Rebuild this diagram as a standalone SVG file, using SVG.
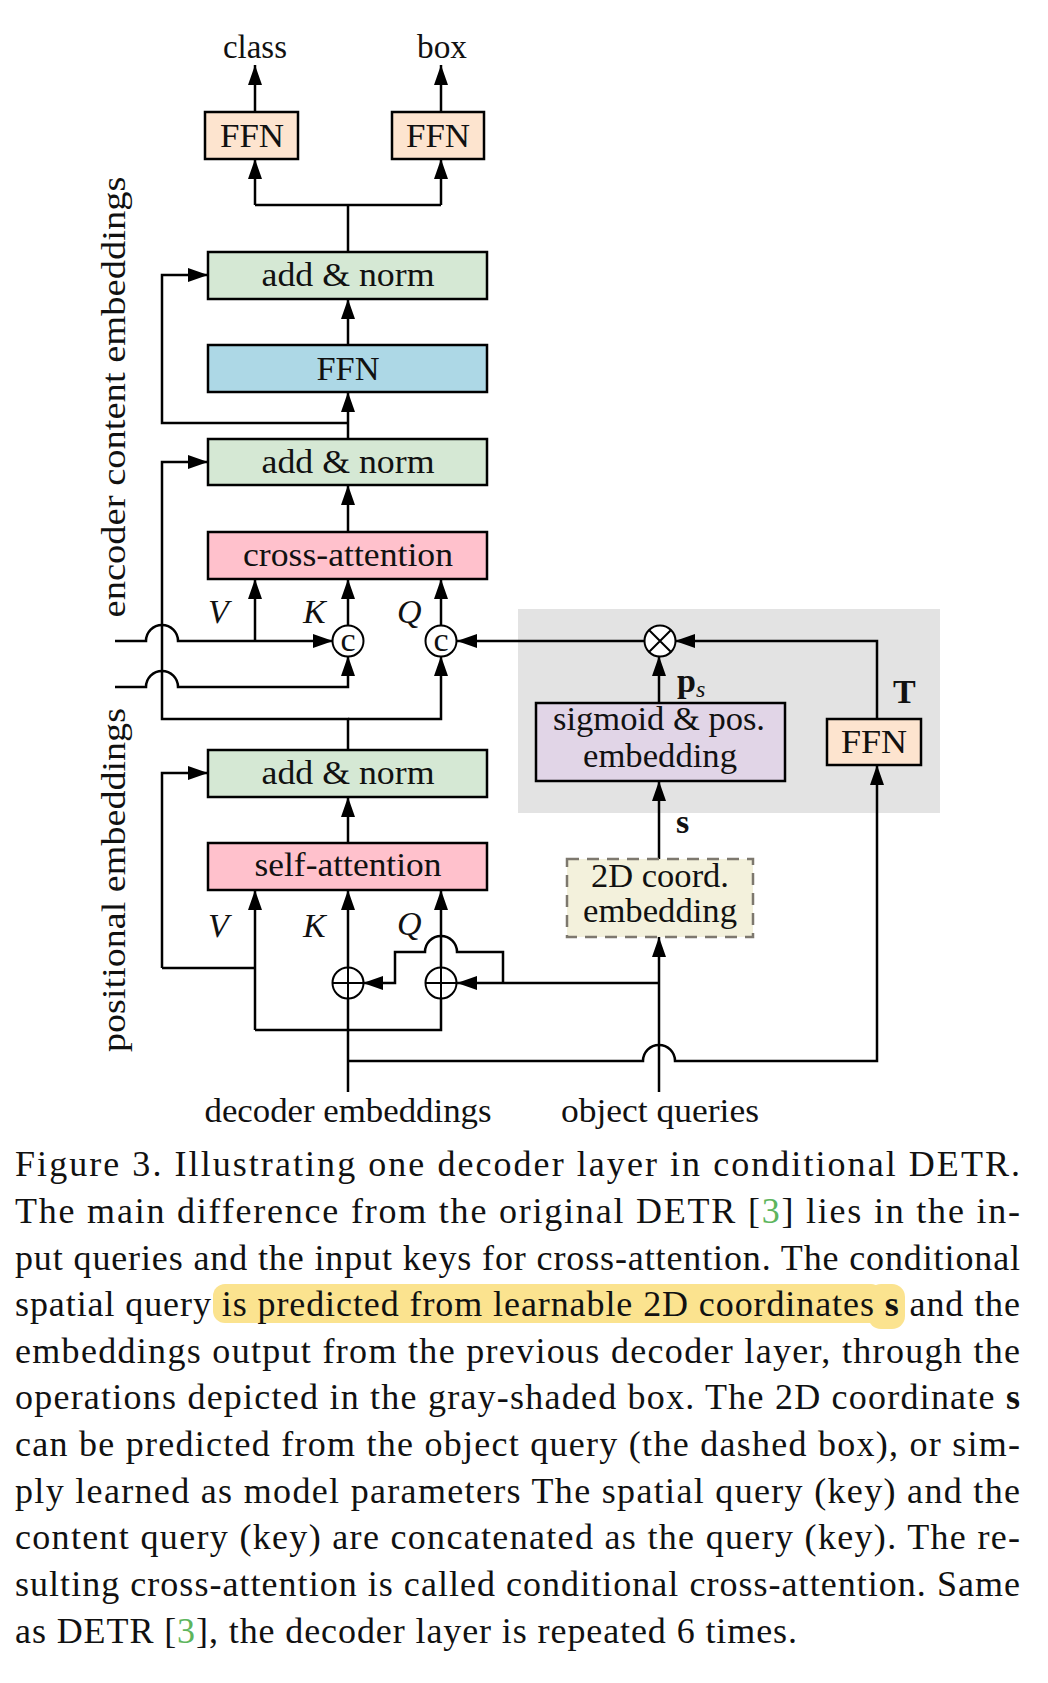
<svg xmlns="http://www.w3.org/2000/svg" width="1048" height="1683" viewBox="0 0 1048 1683">
<style>
  .t { font-family: "Liberation Serif", "Times New Roman", serif; font-size: 34px; fill: #111; }
  .it { font-family: "Liberation Serif", "Times New Roman", serif; font-size: 34px; font-style: italic; fill: #111; }
  .bd { font-family: "Liberation Serif", "Times New Roman", serif; font-size: 34px; font-weight: bold; fill: #111; }
  .cap { font-family: "Liberation Serif", "Times New Roman", serif; font-size: 36px; fill: #111; }
  .box { stroke: #000; stroke-width: 2.5; }
  .ln { fill: none; stroke: #000; stroke-width: 2.5; }
  .arr { fill: none; stroke: #000; stroke-width: 2.5; marker-end: url(#ah); }
  .peach { fill: #FDE4CF; }
  .green { fill: #D5E8D4; }
  .blue { fill: #ADD8E6; }
  .pink { fill: #FFC1CC; }
  .lav { fill: #E1D5E7; }
  .circ { fill: #fff; stroke: #000; stroke-width: 2; }
  .cite { fill: #5DB55D; }
</style>
<defs>
  <marker id="ah" markerUnits="userSpaceOnUse" markerWidth="20" markerHeight="14" refX="20" refY="7" orient="auto">
    <path d="M0,0 L20,7 L0,14 z" fill="#000"/>
  </marker>
</defs>
<rect width="1048" height="1683" fill="#fff"/>

<!-- gray shaded box -->
<rect id="grayBox" x="518" y="609" width="422" height="204" fill="#E3E3E3"/>

<!-- connectors -->
<g id="connectors">
  <line class="arr" x1="255" y1="112" x2="255" y2="65"/>
  <line class="arr" x1="441" y1="112" x2="441" y2="65"/>
  <path class="ln" d="M348,252 V205 H255 M348,205 H441"/>
  <line class="arr" x1="255" y1="205" x2="255" y2="159"/>
  <line class="arr" x1="441" y1="205" x2="441" y2="159"/>
  <line class="arr" x1="348" y1="345" x2="348" y2="299"/>
  <line class="arr" x1="348" y1="439" x2="348" y2="392"/>
  <path class="arr" d="M348,423 H162 V275 H208"/>
  <line class="arr" x1="348" y1="532" x2="348" y2="485"/>
  <path class="arr" d="M348,750 V719 H162 V462 H208"/>
  <path class="arr" d="M348,719 H441 V656"/>
  <path class="arr" d="M115,641 H146 A16,16 0 0 1 178,641 H333"/>
  <line class="arr" x1="255" y1="641" x2="255" y2="579"/>
  <path class="arr" d="M115,687 H146 A16,16 0 0 1 178,687 H348 V656"/>
  <line class="arr" x1="348" y1="626" x2="348" y2="579"/>
  <line class="arr" x1="441" y1="626" x2="441" y2="579"/>
  <line class="arr" x1="645" y1="641" x2="457" y2="641"/>
  <path class="arr" d="M877,719 V641 H675"/>
  <line class="arr" x1="659" y1="703" x2="659" y2="656"/>
  <line class="arr" x1="659" y1="859" x2="659" y2="781"/>
  <line class="arr" x1="348" y1="843" x2="348" y2="797"/>
  <path class="arr" d="M162,968 V773 H208"/>
  <path class="ln" d="M162,968 H255"/>
  <line class="arr" x1="255" y1="1030" x2="255" y2="890"/>
  <line class="arr" x1="348" y1="968" x2="348" y2="890"/>
  <line class="arr" x1="441" y1="968" x2="441" y2="890"/>
  <path class="ln" d="M348,1092 V998"/>
  <path class="ln" d="M255,1030 H441 V998"/>
  <path class="arr" d="M348,1061 H643 A16,16 0 0 1 675,1061 H877 V765"/>
  <line class="arr" x1="659" y1="1092" x2="659" y2="937"/>
  <path class="arr" d="M659,983 H457"/>
  <path class="arr" d="M503,983 V952 H457 A16,16 0 0 0 425,952 H395 V983 H363"/>
</g>

<!-- nodes -->
<g id="out-class"><text class="t" x="255" y="58" text-anchor="middle" textLength="64" lengthAdjust="spacingAndGlyphs">class</text></g>
<g id="out-box"><text class="t" x="442" y="58" text-anchor="middle" textLength="50" lengthAdjust="spacingAndGlyphs">box</text></g>

<g id="ffn-class">
  <rect class="box peach" x="205" y="112" width="93" height="47"/>
  <text class="t" x="252" y="147" text-anchor="middle" textLength="64" lengthAdjust="spacingAndGlyphs">FFN</text>
</g>
<g id="ffn-box">
  <rect class="box peach" x="392" y="112" width="92" height="47"/>
  <text class="t" x="438" y="147" text-anchor="middle" textLength="64" lengthAdjust="spacingAndGlyphs">FFN</text>
</g>
<g id="addnorm-top">
  <rect class="box green" x="208" y="252" width="279" height="47"/>
  <text class="t" x="348" y="286" text-anchor="middle" textLength="173" lengthAdjust="spacingAndGlyphs">add &amp; norm</text>
</g>
<g id="ffn-mid">
  <rect class="box blue" x="208" y="345" width="279" height="47"/>
  <text class="t" x="348" y="380" text-anchor="middle" textLength="63" lengthAdjust="spacingAndGlyphs">FFN</text>
</g>
<g id="addnorm-mid">
  <rect class="box green" x="208" y="439" width="279" height="46"/>
  <text class="t" x="348" y="473" text-anchor="middle" textLength="173" lengthAdjust="spacingAndGlyphs">add &amp; norm</text>
</g>
<g id="cross-attention">
  <rect class="box pink" x="208" y="532" width="279" height="47"/>
  <text class="t" x="348" y="566" text-anchor="middle" textLength="210" lengthAdjust="spacingAndGlyphs">cross-attention</text>
</g>
<g id="labels-cross">
  <text class="it" x="208" y="623">V</text>
  <text class="it" x="303" y="623">K</text>
  <text class="it" x="397" y="623">Q</text>
</g>
<g id="concat-k">
  <circle class="circ" cx="348" cy="641" r="15.5"/>
  <text class="t" x="348" y="651" text-anchor="middle" style="font-size:34px">c</text>
</g>
<g id="concat-q">
  <circle class="circ" cx="441" cy="641" r="15.5"/>
  <text class="t" x="441" y="651" text-anchor="middle" style="font-size:34px">c</text>
</g>
<g id="otimes">
  <circle class="circ" cx="660" cy="641" r="15.5"/>
  <path d="M649,630 L671,652 M671,630 L649,652" stroke="#000" stroke-width="2"/>
</g>
<g id="ps-label">
  <text class="bd" x="677" y="692">p<tspan class="it" style="font-size:24px;font-weight:normal" dy="5">s</tspan></text>
</g>
<g id="T-label"><text class="bd" x="893" y="703">T</text></g>
<g id="sigmoid">
  <rect class="box lav" x="536" y="703" width="249" height="78"/>
  <text class="t" x="659" y="730" text-anchor="middle" textLength="212" lengthAdjust="spacingAndGlyphs">sigmoid &amp; pos.</text>
  <text class="t" x="660" y="767" text-anchor="middle" textLength="154" lengthAdjust="spacingAndGlyphs">embedding</text>
</g>
<g id="ffn-T">
  <rect class="box peach" x="827" y="719" width="94" height="46"/>
  <text class="t" x="874" y="753" text-anchor="middle" textLength="66" lengthAdjust="spacingAndGlyphs">FFN</text>
</g>
<g id="addnorm-bot">
  <rect class="box green" x="208" y="750" width="279" height="47"/>
  <text class="t" x="348" y="784" text-anchor="middle" textLength="173" lengthAdjust="spacingAndGlyphs">add &amp; norm</text>
</g>
<g id="s-label"><text class="bd" x="676" y="833">s</text></g>
<g id="self-attention">
  <rect class="box pink" x="208" y="843" width="279" height="47"/>
  <text class="t" x="348" y="876" text-anchor="middle" textLength="187" lengthAdjust="spacingAndGlyphs">self-attention</text>
</g>
<g id="coord2d">
  <rect x="567" y="859" width="186" height="78" fill="#F3F1DC" stroke="#7D786E" stroke-width="2.5" stroke-dasharray="12,8"/>
  <text class="t" x="660" y="887" text-anchor="middle" textLength="138" lengthAdjust="spacingAndGlyphs">2D coord.</text>
  <text class="t" x="660" y="922" text-anchor="middle" textLength="154" lengthAdjust="spacingAndGlyphs">embedding</text>
</g>
<g id="labels-self">
  <text class="it" x="208" y="937">V</text>
  <text class="it" x="303" y="937">K</text>
  <text class="it" x="397" y="935">Q</text>
</g>
<g id="oplus-k">
  <circle class="circ" cx="348" cy="983" r="15.5"/>
  <path d="M333,983 H363 M348,968 V998" stroke="#000" stroke-width="2"/>
</g>
<g id="oplus-q">
  <circle class="circ" cx="441" cy="983" r="15.5"/>
  <path d="M426,983 H456 M441,968 V998" stroke="#000" stroke-width="2"/>
</g>
<g id="in-decoder"><text class="t" x="348" y="1122" text-anchor="middle" textLength="287" lengthAdjust="spacingAndGlyphs">decoder embeddings</text></g>
<g id="in-object"><text class="t" x="660" y="1122" text-anchor="middle" textLength="198" lengthAdjust="spacingAndGlyphs">object queries</text></g>

<g id="side-encoder"><text class="t" transform="translate(125,397) rotate(-90)" text-anchor="middle" textLength="441" lengthAdjust="spacingAndGlyphs">encoder content embeddings</text></g>
<g id="side-positional"><text class="t" transform="translate(125,880) rotate(-90)" text-anchor="middle" textLength="344" lengthAdjust="spacingAndGlyphs">positional embeddings</text></g>

<!-- caption -->
<g id="caption">
  <rect x="213" y="1284" width="670" height="39" rx="12" fill="#FBE38F"/>
  <rect x="868" y="1284" width="37" height="45" rx="13" fill="#FBE38F"/>
  <text class="cap" x="15" y="1176" textLength="1005" lengthAdjust="spacing">Figure 3. Illustrating one decoder layer in conditional DETR.</text>
  <text class="cap" x="15" y="1223" textLength="1005" lengthAdjust="spacing">The main difference from the original DETR [<tspan class="cite">3</tspan>] lies in the in-</text>
  <text class="cap" x="15" y="1270" textLength="1005" lengthAdjust="spacing">put queries and the input keys for cross-attention. The conditional</text>
  <text class="cap" x="15" y="1316" textLength="1005" lengthAdjust="spacing">spatial query is predicted from learnable 2D coordinates <tspan font-weight="bold">s</tspan> and the</text>
  <text class="cap" x="15" y="1363" textLength="1005" lengthAdjust="spacing">embeddings output from the previous decoder layer, through the</text>
  <text class="cap" x="15" y="1409" textLength="1005" lengthAdjust="spacing">operations depicted in the gray-shaded box. The 2D coordinate <tspan font-weight="bold">s</tspan></text>
  <text class="cap" x="15" y="1456" textLength="1005" lengthAdjust="spacing">can be predicted from the object query (the dashed box), or sim-</text>
  <text class="cap" x="15" y="1503" textLength="1005" lengthAdjust="spacing">ply learned as model parameters The spatial query (key) and the</text>
  <text class="cap" x="15" y="1549" textLength="1005" lengthAdjust="spacing">content query (key) are concatenated as the query (key). The re-</text>
  <text class="cap" x="15" y="1596" textLength="1005" lengthAdjust="spacing">sulting cross-attention is called conditional cross-attention. Same</text>
  <text class="cap" x="15" y="1643" textLength="782" lengthAdjust="spacing">as DETR [<tspan class="cite">3</tspan>], the decoder layer is repeated 6 times.</text>
</g>
</svg>
